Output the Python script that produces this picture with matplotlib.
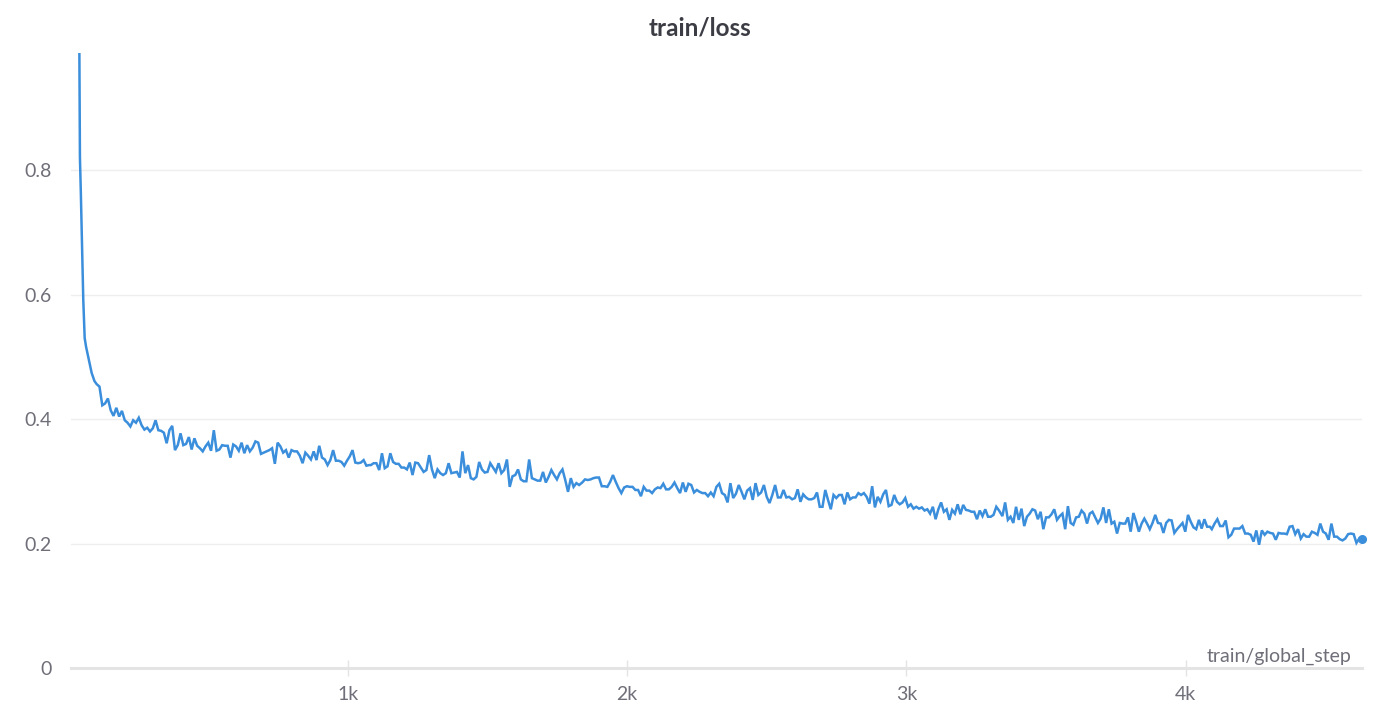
import numpy as np
import matplotlib
matplotlib.use("Agg")
import matplotlib.pyplot as plt

plt.rcParams["font.family"] = ["Lato", "DejaVu Sans"]

# steep start of the run
early_step = [38, 40, 43, 48, 52, 57, 62, 72, 82, 92, 100]
early_loss = [0.988, 0.820, 0.768, 0.667, 0.591, 0.530, 0.516, 0.495, 0.474, 0.461, 0.456]

seg1_range = (110, 281)
seg1_loss = [0.452, 0.422, 0.425, 0.433, 0.414, 0.405, 0.418, 0.404, 0.413, 0.398,
             0.394, 0.388, 0.398, 0.394, 0.402, 0.390, 0.383, 0.386]

seg2_range = (291, 1076)
seg2_loss = [0.380, 0.385, 0.398, 0.382, 0.381, 0.378, 0.361, 0.382, 0.389, 0.350,
             0.358, 0.377, 0.358, 0.360, 0.371, 0.351, 0.369, 0.357, 0.353, 0.348,
             0.356, 0.362, 0.349, 0.382, 0.349, 0.351, 0.358, 0.357, 0.357, 0.338,
             0.359, 0.356, 0.349, 0.362, 0.345, 0.358, 0.348, 0.354, 0.364, 0.362,
             0.344, 0.346, 0.348, 0.350, 0.353, 0.328, 0.362, 0.356, 0.346, 0.350,
             0.338, 0.350, 0.348, 0.348, 0.341, 0.329, 0.346, 0.341, 0.335, 0.348,
             0.334, 0.357, 0.338, 0.335, 0.326, 0.334, 0.350, 0.333, 0.333, 0.331,
             0.325, 0.333, 0.340, 0.350, 0.330, 0.329, 0.330, 0.334, 0.325, 0.326]

seg3_range = (1082, 1828)
seg3_loss = [0.326, 0.329, 0.329, 0.318, 0.345, 0.321, 0.324, 0.345, 0.331, 0.328,
             0.328, 0.322, 0.322, 0.319, 0.330, 0.310, 0.330, 0.329, 0.322, 0.315,
             0.318, 0.342, 0.319, 0.305, 0.319, 0.313, 0.310, 0.313, 0.329, 0.313,
             0.314, 0.315, 0.306, 0.348, 0.313, 0.326, 0.305, 0.303, 0.307, 0.331,
             0.319, 0.314, 0.315, 0.329, 0.322, 0.315, 0.329, 0.313, 0.318, 0.335,
             0.291, 0.308, 0.310, 0.319, 0.303, 0.300, 0.300, 0.335, 0.305, 0.303,
             0.301, 0.301, 0.315, 0.298, 0.307, 0.318, 0.310, 0.303, 0.313, 0.319,
             0.302, 0.283, 0.305, 0.291, 0.297, 0.294]

seg4_range = (1839, 2580)
seg4_loss = [0.298, 0.303, 0.302, 0.303, 0.305, 0.306, 0.306, 0.292, 0.292, 0.291,
             0.299, 0.310, 0.299, 0.289, 0.281, 0.290, 0.292, 0.291, 0.291, 0.286,
             0.286, 0.276, 0.291, 0.285, 0.285,
             0.281, 0.287, 0.290, 0.289, 0.296, 0.287, 0.287, 0.291, 0.298, 0.289,
             0.281, 0.298, 0.283, 0.296, 0.294, 0.282, 0.286, 0.283, 0.281, 0.281,
             0.276, 0.282, 0.276, 0.291, 0.296, 0.281, 0.278, 0.266, 0.297, 0.273,
             0.280, 0.294, 0.283, 0.271, 0.285, 0.289, 0.270, 0.297, 0.278, 0.282,
             0.294, 0.275, 0.265, 0.278, 0.294, 0.274, 0.274, 0.286, 0.274, 0.275]

seg5_range = (2591, 3332)
seg5_loss = [0.271, 0.273, 0.287, 0.267, 0.279, 0.274, 0.271, 0.271, 0.273, 0.282,
             0.259, 0.259, 0.286, 0.270, 0.255, 0.278, 0.273, 0.278, 0.278, 0.263,
             0.282, 0.271, 0.274, 0.274, 0.281, 0.278, 0.281, 0.275, 0.264, 0.292,
             0.258, 0.275, 0.267, 0.279, 0.286, 0.260, 0.262, 0.278, 0.267, 0.263,
             0.266, 0.273, 0.259, 0.263, 0.256, 0.259, 0.256, 0.258, 0.253, 0.255,
             0.248, 0.259, 0.239, 0.255, 0.266, 0.251, 0.255, 0.238, 0.254, 0.248,
             0.263, 0.247, 0.262, 0.254, 0.253, 0.251, 0.251, 0.239, 0.253, 0.244,
             0.255, 0.243, 0.243, 0.246, 0.259, 0.253]

seg6_range = (3344, 4087)
seg6_loss = [0.244, 0.266, 0.238, 0.243, 0.233, 0.259, 0.238, 0.256, 0.228, 0.243,
             0.248, 0.255, 0.253, 0.239, 0.251, 0.223, 0.242, 0.242, 0.247, 0.255,
             0.238, 0.244, 0.248, 0.223, 0.260, 0.233, 0.230, 0.242, 0.243, 0.253,
             0.248, 0.232, 0.248, 0.251, 0.242, 0.233, 0.240, 0.258, 0.233, 0.255,
             0.232, 0.235, 0.216, 0.233, 0.232, 0.232, 0.242, 0.219, 0.249, 0.235,
             0.219, 0.232, 0.240, 0.232, 0.223, 0.233, 0.246, 0.233, 0.232, 0.217,
             0.233, 0.238, 0.237, 0.217, 0.223, 0.228, 0.233, 0.219, 0.246, 0.235,
             0.226, 0.223, 0.238, 0.224, 0.239, 0.227, 0.227]

seg7_range = (4094, 4632)
seg7_loss = [0.223, 0.232, 0.239, 0.228, 0.228, 0.237, 0.210, 0.214, 0.224, 0.224,
             0.224, 0.228, 0.216, 0.216, 0.214, 0.203, 0.221, 0.198, 0.221, 0.214,
             0.219, 0.217, 0.216, 0.206, 0.217, 0.216, 0.216, 0.215, 0.227, 0.228,
             0.215, 0.223, 0.208, 0.215, 0.211, 0.211, 0.219, 0.217, 0.214, 0.232,
             0.219, 0.216, 0.206, 0.232, 0.211, 0.211, 0.207, 0.205, 0.208, 0.215,
             0.216, 0.215, 0.201, 0.208, 0.207]

x_ticks = [1000, 2000, 3000, 4000]
x_labels = ["1k", "2k", "3k", "4k"]
y_ticks = [0, 0.2, 0.4, 0.6, 0.8]
y_labels = ["0", "0.2", "0.4", "0.6", "0.8"]

segments = [(seg1_range, seg1_loss), (seg2_range, seg2_loss), (seg3_range, seg3_loss),
            (seg4_range, seg4_loss), (seg5_range, seg5_loss), (seg6_range, seg6_loss),
            (seg7_range, seg7_loss)]

steps = list(early_step)
loss = list(early_loss)
for (s0, s1), vals in segments:
    steps += list(np.linspace(s0, s1, len(vals)))
    loss += vals
steps = np.array(steps)
loss = np.array(loss)

blue = "#3a8edb"
tick_gray = "#6f6f79"
axis_gray = "#e4e4e4"

fig = plt.figure(figsize=(14, 7.23), dpi=100)
ax = fig.add_axes([71 / 1400, 55 / 723, 1291 / 1400, 615 / 723])

ax.plot(steps, loss, color=blue, lw=1.8, solid_joinstyle="miter")
ax.plot(steps[-1], loss[-1], "o", color=blue, ms=5.5, clip_on=False)

ax.set_xlim(8, 4632)
ax.set_ylim(0, 0.988)

ax.set_xticks(x_ticks, x_labels)
ax.set_yticks(y_ticks, y_labels)
ax.yaxis.grid(True, color="#eeeeee", lw=1)
ax.set_axisbelow(True)

for side in ["left", "right", "top"]:
    ax.spines[side].set_visible(False)
ax.spines["bottom"].set_color(axis_gray)
ax.spines["bottom"].set_linewidth(2.2)

ax.tick_params(axis="x", direction="inout", length=12, width=1, color=axis_gray,
               pad=7, labelsize=14, labelcolor=tick_gray)
ax.tick_params(axis="y", length=0, pad=14, labelsize=14, labelcolor=tick_gray)

ax.text(0.992, 0.01, "train/global_step", transform=ax.transAxes, ha="right",
        va="baseline", fontsize=14, color=tick_gray)

fig.text(0.5, 1 - 28 / 723, "train/loss", ha="center", va="center",
         fontsize=17.5, fontweight="bold", color="#3c3c45")

fig.savefig("out.png", dpi=100)
